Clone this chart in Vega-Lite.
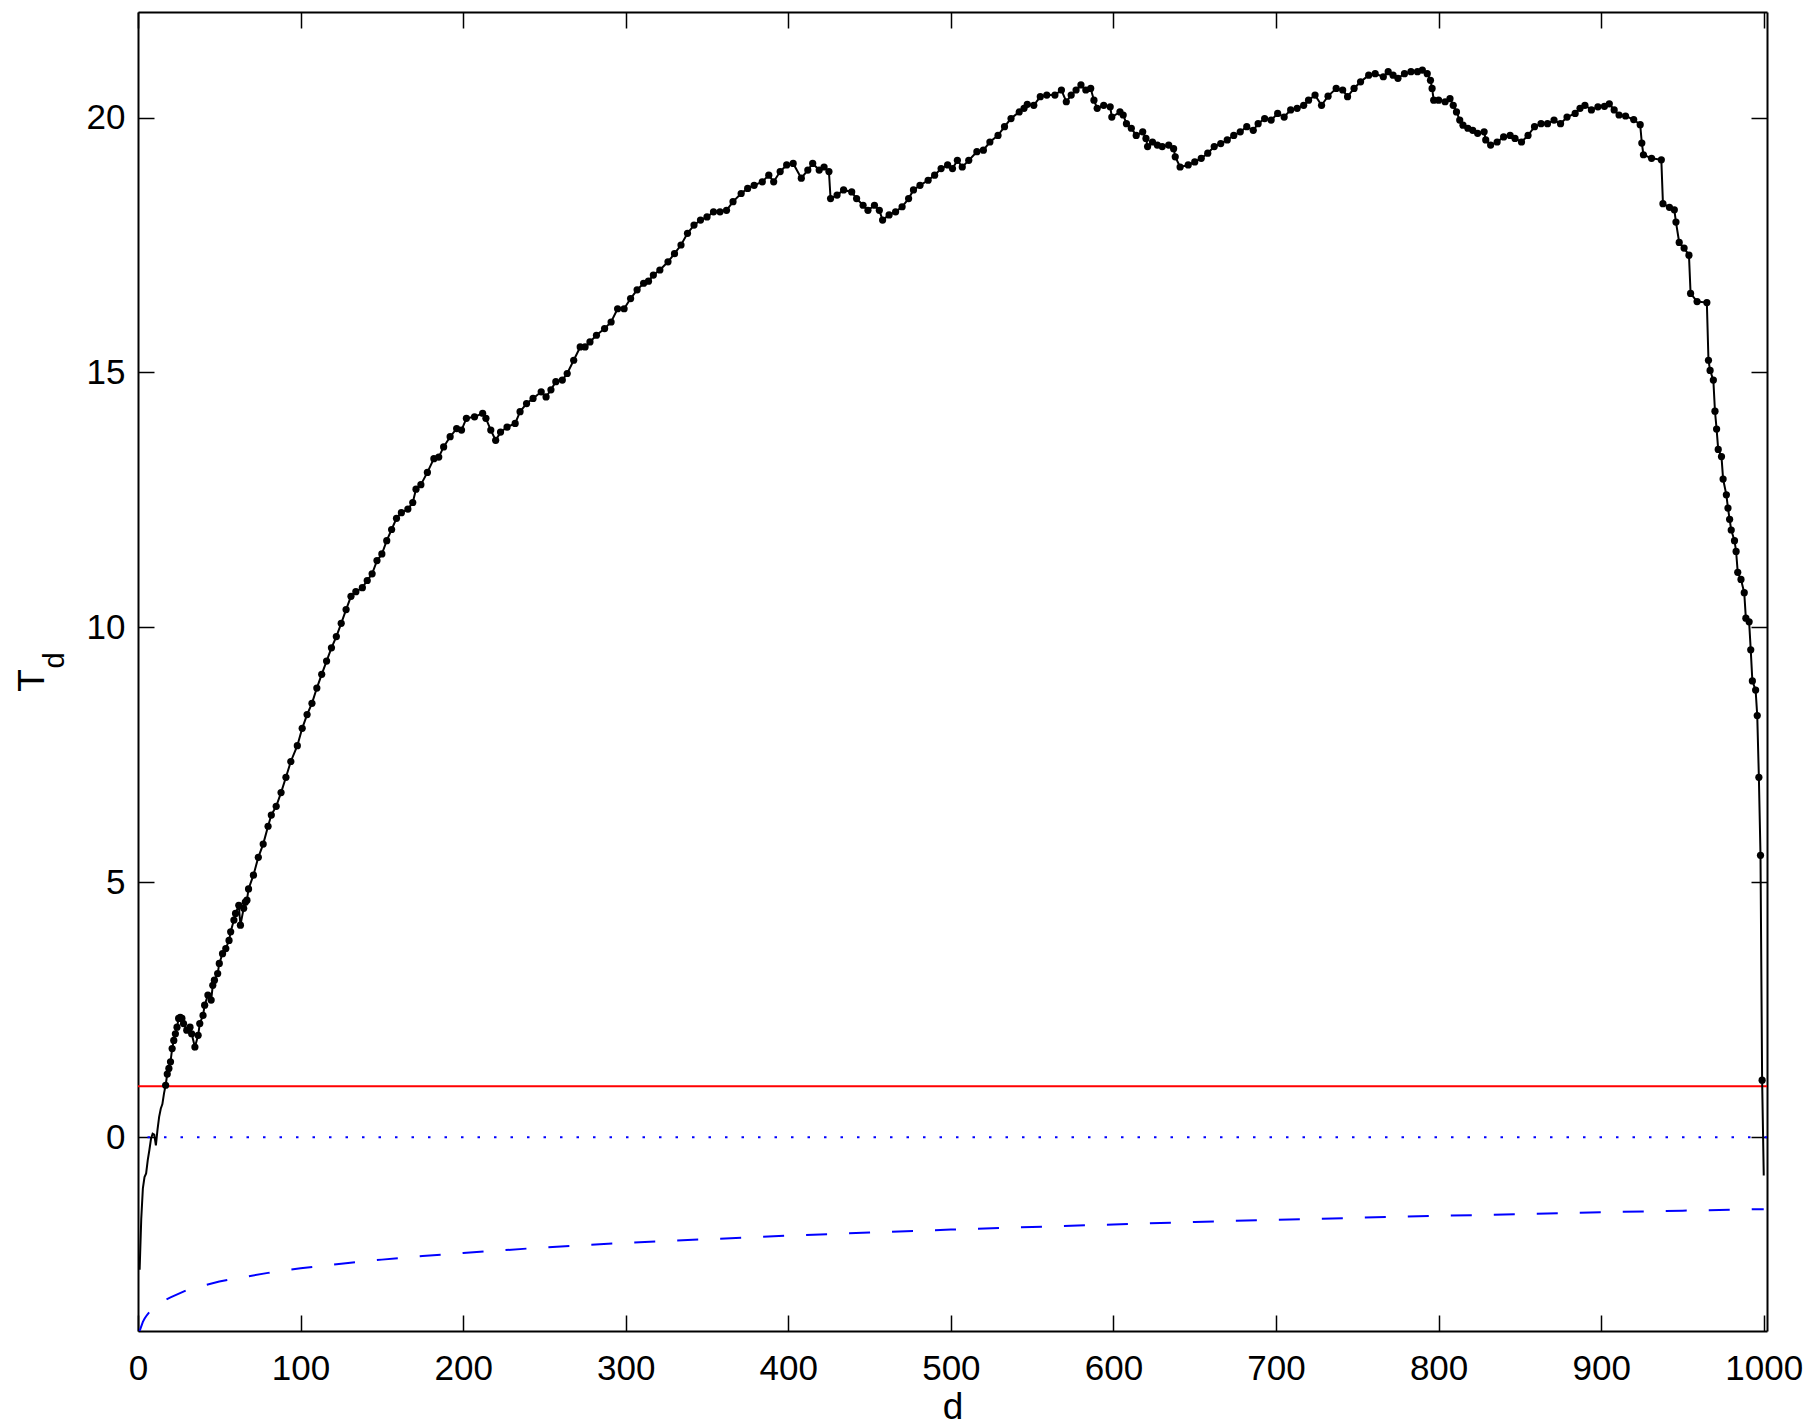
{
  "$schema": "https://vega.github.io/schema/vega-lite/v6.json",
  "width": 1629,
  "height": 1319,
  "autosize": {"type": "none"},
  "padding": {"left": 138, "top": 12, "right": 42, "bottom": 96},
  "background": "white",
  "config": {
    "view": {"stroke": null},
    "axis": {
      "grid": false,
      "domainColor": "black",
      "domainWidth": 2,
      "tickColor": "black",
      "tickWidth": 1.5,
      "tickSize": -16,
      "labelFont": "Liberation Sans",
      "labelFontSize": 35,
      "labelColor": "black",
      "titleFont": "Liberation Sans",
      "titleFontSize": 37,
      "titleColor": "black",
      "titleFontWeight": "normal"
    }
  },
  "datasets": {
    "T": [
      {"d":1,"value":-2.6},{"d":2,"value":-1.6},{"d":3,"value":-1.0},{"d":4,"value":-0.78},{"d":5,"value":-0.71},{"d":6,"value":-0.45},{"d":7,"value":-0.25},{"d":8,"value":-0.03},{"d":9,"value":0.07},{"d":10,"value":0.05},{"d":11,"value":-0.16},{"d":12,"value":0.15},{"d":13,"value":0.40},{"d":14,"value":0.56},{"d":15,"value":0.65},{"d":16,"value":0.86},{"d":17,"value":1.02},{"d":18,"value":1.24},{"d":19,"value":1.35},{"d":20,"value":1.48},
      {"d":21,"value":1.74},{"d":22,"value":1.90},{"d":23,"value":2.03},{"d":24,"value":2.16},{"d":25,"value":2.33},{"d":26,"value":2.35},{"d":27,"value":2.33},{"d":28,"value":2.23},{"d":30,"value":2.10},{"d":32,"value":2.16},{"d":33,"value":2.03},{"d":35,"value":1.77},{"d":37,"value":2.0},{"d":38,"value":2.23},{"d":40,"value":2.39},{"d":41,"value":2.59},{"d":43,"value":2.79},{"d":45,"value":2.69},{"d":46,"value":2.98},{"d":47,"value":3.08},
      {"d":49,"value":3.21},{"d":50,"value":3.41},{"d":52,"value":3.60},{"d":54,"value":3.70},{"d":56,"value":3.86},{"d":57,"value":4.03},{"d":59,"value":4.26},{"d":60,"value":4.39},{"d":62,"value":4.55},{"d":63,"value":4.16},{"d":65,"value":4.49},{"d":66,"value":4.61},{"d":67,"value":4.65},{"d":68,"value":4.87},{"d":71,"value":5.14},{"d":74,"value":5.49},{"d":77,"value":5.75},{"d":80,"value":6.10},{"d":82,"value":6.32},{"d":85,"value":6.49},
      {"d":88,"value":6.76},{"d":91,"value":7.06},{"d":94,"value":7.37},{"d":98,"value":7.68},{"d":101,"value":8.02},{"d":104,"value":8.29},{"d":107,"value":8.51},{"d":110,"value":8.81},{"d":113,"value":9.08},{"d":116,"value":9.34},{"d":119,"value":9.60},{"d":122,"value":9.82},{"d":125,"value":10.08},{"d":128,"value":10.35},{"d":131,"value":10.61},{"d":134,"value":10.70},{"d":138,"value":10.78},{"d":141,"value":10.92},{"d":144,"value":11.05},{"d":147,"value":11.31},
      {"d":150,"value":11.44},{"d":153,"value":11.70},{"d":156,"value":11.92},{"d":159,"value":12.14},{"d":162,"value":12.25},{"d":166,"value":12.32},{"d":169,"value":12.45},{"d":171,"value":12.71},{"d":174,"value":12.80},{"d":178,"value":13.04},{"d":182,"value":13.31},{"d":185,"value":13.34},{"d":188,"value":13.54},{"d":192,"value":13.74},{"d":196,"value":13.90},{"d":199,"value":13.87},{"d":202,"value":14.10},{"d":207,"value":14.13},{"d":212,"value":14.20},{"d":214,"value":14.10},
      {"d":217,"value":13.87},{"d":220,"value":13.67},{"d":223,"value":13.83},{"d":227,"value":13.93},{"d":232,"value":14.0},{"d":235,"value":14.23},{"d":239,"value":14.39},{"d":243,"value":14.49},{"d":248,"value":14.62},{"d":251,"value":14.52},{"d":254,"value":14.66},{"d":257,"value":14.82},{"d":261,"value":14.85},{"d":264,"value":14.98},{"d":268,"value":15.24},{"d":272,"value":15.50},{"d":275,"value":15.50},{"d":278,"value":15.60},{"d":282,"value":15.73},{"d":287,"value":15.86},
      {"d":291,"value":15.99},{"d":295,"value":16.25},{"d":299,"value":16.25},{"d":303,"value":16.45},{"d":307,"value":16.62},{"d":311,"value":16.75},{"d":314,"value":16.79},{"d":317,"value":16.91},{"d":321,"value":17.01},{"d":326,"value":17.17},{"d":330,"value":17.33},{"d":334,"value":17.50},{"d":338,"value":17.73},{"d":342,"value":17.89},{"d":346,"value":17.99},{"d":350,"value":18.05},{"d":354,"value":18.15},{"d":358,"value":18.15},{"d":362,"value":18.18},{"d":366,"value":18.35},
      {"d":371,"value":18.51},{"d":375,"value":18.61},{"d":379,"value":18.67},{"d":384,"value":18.74},{"d":388,"value":18.87},{"d":391,"value":18.74},{"d":395,"value":18.94},{"d":399,"value":19.07},{"d":403,"value":19.10},{"d":408,"value":18.81},{"d":412,"value":18.97},{"d":415,"value":19.10},{"d":419,"value":18.97},{"d":422,"value":19.03},{"d":425,"value":18.94},{"d":426,"value":18.41},{"d":430,"value":18.48},{"d":434,"value":18.58},{"d":439,"value":18.54},{"d":442,"value":18.41},
      {"d":446,"value":18.28},{"d":449,"value":18.18},{"d":453,"value":18.28},{"d":456,"value":18.18},{"d":458,"value":17.99},{"d":462,"value":18.09},{"d":466,"value":18.15},{"d":470,"value":18.25},{"d":474,"value":18.41},{"d":477,"value":18.58},{"d":481,"value":18.67},{"d":486,"value":18.77},{"d":490,"value":18.87},{"d":494,"value":19.0},{"d":498,"value":19.07},{"d":501,"value":19.0},{"d":504,"value":19.16},{"d":507,"value":19.03},{"d":511,"value":19.16},{"d":516,"value":19.33},
      {"d":520,"value":19.36},{"d":524,"value":19.52},{"d":529,"value":19.65},{"d":533,"value":19.82},{"d":537,"value":19.98},{"d":542,"value":20.11},{"d":545,"value":20.18},{"d":547,"value":20.26},{"d":551,"value":20.24},{"d":555,"value":20.41},{"d":559,"value":20.44},{"d":564,"value":20.44},{"d":568,"value":20.54},{"d":571,"value":20.31},{"d":574,"value":20.44},{"d":577,"value":20.54},{"d":580,"value":20.64},{"d":583,"value":20.54},{"d":586,"value":20.57},{"d":588,"value":20.34},
      {"d":590,"value":20.18},{"d":594,"value":20.24},{"d":598,"value":20.21},{"d":599,"value":20.01},{"d":604,"value":20.11},{"d":606,"value":20.05},{"d":608,"value":19.88},{"d":611,"value":19.79},{"d":614,"value":19.65},{"d":618,"value":19.72},{"d":620,"value":19.59},{"d":621,"value":19.43},{"d":624,"value":19.52},{"d":627,"value":19.46},{"d":630,"value":19.43},{"d":634,"value":19.46},{"d":637,"value":19.39},{"d":638,"value":19.23},{"d":641,"value":19.03},{"d":646,"value":19.07},
      {"d":650,"value":19.13},{"d":654,"value":19.20},{"d":658,"value":19.30},{"d":662,"value":19.43},{"d":666,"value":19.49},{"d":670,"value":19.56},{"d":674,"value":19.65},{"d":678,"value":19.72},{"d":682,"value":19.82},{"d":686,"value":19.75},{"d":689,"value":19.88},{"d":693,"value":19.98},{"d":697,"value":19.95},{"d":701,"value":20.08},{"d":705,"value":20.01},{"d":709,"value":20.15},{"d":713,"value":20.18},{"d":717,"value":20.24},{"d":720,"value":20.34},{"d":724,"value":20.44},
      {"d":728,"value":20.24},{"d":732,"value":20.42},{"d":737,"value":20.57},{"d":741,"value":20.54},{"d":744,"value":20.41},{"d":748,"value":20.57},{"d":752,"value":20.70},{"d":757,"value":20.83},{"d":761,"value":20.86},{"d":766,"value":20.80},{"d":769,"value":20.90},{"d":772,"value":20.83},{"d":775,"value":20.77},{"d":779,"value":20.86},{"d":783,"value":20.90},{"d":787,"value":20.90},{"d":790,"value":20.93},{"d":793,"value":20.86},{"d":795,"value":20.73},{"d":796,"value":20.57},
      {"d":797,"value":20.34},{"d":800,"value":20.34},{"d":804,"value":20.31},{"d":807,"value":20.37},{"d":809,"value":20.24},{"d":811,"value":20.11},{"d":813,"value":19.95},{"d":815,"value":19.85},{"d":818,"value":19.79},{"d":821,"value":19.75},{"d":824,"value":19.69},{"d":828,"value":19.72},{"d":829,"value":19.56},{"d":832,"value":19.46},{"d":836,"value":19.52},{"d":840,"value":19.62},{"d":844,"value":19.65},{"d":847,"value":19.59},{"d":851,"value":19.52},{"d":855,"value":19.65},
      {"d":859,"value":19.82},{"d":863,"value":19.88},{"d":867,"value":19.88},{"d":871,"value":19.95},{"d":875,"value":19.88},{"d":879,"value":20.01},{"d":884,"value":20.08},{"d":887,"value":20.18},{"d":890,"value":20.24},{"d":894,"value":20.15},{"d":898,"value":20.21},{"d":902,"value":20.22},{"d":905,"value":20.27},{"d":908,"value":20.15},{"d":911,"value":20.05},{"d":915,"value":20.03},{"d":920,"value":19.96},{"d":924,"value":19.86},{"d":925,"value":19.50},{"d":926,"value":19.27},
      {"d":931,"value":19.20},{"d":937,"value":19.17},{"d":938,"value":18.31},{"d":942,"value":18.24},{"d":945,"value":18.19},{"d":946,"value":17.95},{"d":948,"value":17.55},{"d":951,"value":17.44},{"d":954,"value":17.30},{"d":955,"value":16.55},{"d":959,"value":16.39},{"d":965,"value":16.37},{"d":966,"value":15.24},{"d":967,"value":15.04},{"d":969,"value":14.85},{"d":970,"value":14.24},{"d":971,"value":13.89},{"d":972,"value":13.49},{"d":974,"value":13.35},{"d":975,"value":12.91},
      {"d":977,"value":12.60},{"d":978,"value":12.34},{"d":979,"value":12.12},{"d":980,"value":11.91},{"d":982,"value":11.70},{"d":983,"value":11.49},{"d":984,"value":11.08},{"d":986,"value":10.94},{"d":988,"value":10.68},{"d":989,"value":10.18},{"d":991,"value":10.11},{"d":992,"value":9.56},{"d":993,"value":8.95},{"d":995,"value":8.77},{"d":996,"value":8.27},{"d":997,"value":7.06},{"d":998,"value":5.53},{"d":999,"value":1.12},{"d":1000,"value":-0.75}
    ],
    "lower": [
      {"d":1,"value":-3.80},{"d":2,"value":-3.71},{"d":3,"value":-3.62},{"d":4,"value":-3.56},{"d":5,"value":-3.51},{"d":7,"value":-3.43},{"d":10,"value":-3.33},{"d":15,"value":-3.22},{"d":20,"value":-3.14},{"d":30,"value":-3.00},{"d":40,"value":-2.91},{"d":50,"value":-2.83},{"d":60,"value":-2.77},{"d":80,"value":-2.66},{"d":100,"value":-2.57},{"d":125,"value":-2.48},{"d":150,"value":-2.40},{"d":175,"value":-2.33},{"d":200,"value":-2.27},{"d":250,"value":-2.16},{"d":300,"value":-2.07},{"d":350,"value":-2.00},{"d":400,"value":-1.93},{"d":450,"value":-1.87},{"d":500,"value":-1.81},{"d":550,"value":-1.76},{"d":600,"value":-1.71},{"d":650,"value":-1.66},{"d":700,"value":-1.62},{"d":750,"value":-1.58},{"d":800,"value":-1.54},{"d":850,"value":-1.51},{"d":900,"value":-1.47},{"d":950,"value":-1.44},{"d":1000,"value":-1.41}
    ],
    "zero": [{"value": 0}],
    "threshold": [{"value": 1}]
  },
  "resolve": {"axis": {"x": "independent", "y": "independent"}},
  "layer": [
    {
      "layer": [
        {
          "data": {"name": "lower"},
          "mark": {"type": "line", "color": "#0000ff", "strokeWidth": 2, "strokeDash": [21, 22], "clip": true},
          "encoding": {
            "x": {"field": "d", "type": "quantitative", "scale": {"domain": [0, 1002], "nice": false, "zero": false},
              "axis": {"values": [0,100,200,300,400,500,600,700,800,900,1000], "format": "d", "title": "d", "labelPadding": 36, "labelFlush": false, "labelOverlap": false, "titleBaseline": "alphabetic", "titleY": 87}},
            "y": {"field": "value", "type": "quantitative", "scale": {"domain": [-3.8, 22.07], "nice": false, "zero": false},
              "axis": {"values": [0,5,10,15,20], "title": "T", "labelPadding": 29, "labelFlush": false, "titleAngle": 270, "titleAlign": "center", "titleBaseline": "middle", "titleX": -106, "titleY": 668}}
          }
        },
        {
          "data": {"name": "zero"},
          "mark": {"type": "rule", "color": "#0000ff", "strokeWidth": 2.2, "strokeDash": [2.5, 14]},
          "encoding": {
            "y": {"field": "value", "type": "quantitative"}
          }
        },
        {
          "data": {"name": "threshold"},
          "mark": {"type": "rule", "color": "#ff0000", "strokeWidth": 2},
          "encoding": {
            "y": {"field": "value", "type": "quantitative"}
          }
        },
        {
          "data": {"name": "T"},
          "mark": {"type": "line", "color": "black", "strokeWidth": 2, "clip": true},
          "encoding": {
            "x": {"field": "d", "type": "quantitative"},
            "y": {"field": "value", "type": "quantitative"}
          }
        },
        {
          "data": {"name": "T"},
          "transform": [{"filter": "datum.value > 1"}],
          "mark": {"type": "circle", "color": "black", "size": 52, "opacity": 1},
          "encoding": {
            "x": {"field": "d", "type": "quantitative"},
            "y": {"field": "value", "type": "quantitative"}
          }
        }
      ]
    },
    {
      "data": {"name": "lower"},
      "mark": {"type": "line", "opacity": 0},
      "encoding": {
        "x": {"field": "d", "type": "quantitative", "scale": {"domain": [0, 1002], "nice": false, "zero": false},
          "axis": {"orient": "top", "labels": false, "title": null, "values": [0,100,200,300,400,500,600,700,800,900,1000]}},
        "y": {"field": "value", "type": "quantitative", "scale": {"domain": [-3.8, 22.07], "nice": false, "zero": false},
          "axis": {"orient": "right", "labels": false, "values": [0,5,10,15,20], "title": "d", "titleFontSize": 29, "titleAngle": 270, "titleAlign": "center", "titleBaseline": "middle", "titleX": -1713, "titleY": 648}}
      }
    }
  ]
}
